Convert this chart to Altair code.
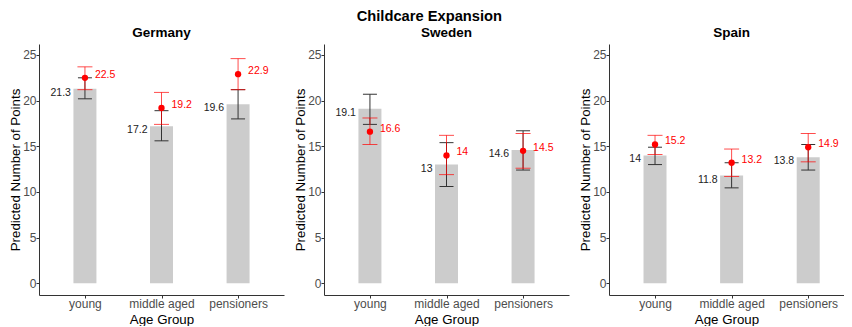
import altair as alt
import pandas as pd

countries = ["Germany", "Sweden", "Spain"]
groups = ["young", "middle aged", "pensioners"]

# black estimates (bars) with their confidence bounds
black_est = [[21.3, 17.2, 19.6], [19.1, 13.0, 14.6], [14.0, 11.8, 13.8]]
black_lo = [[20.2, 15.6, 18.0], [17.4, 10.6, 12.4], [13.0, 10.45, 12.4]]
black_hi = [[22.5, 18.9, 21.2], [20.7, 15.4, 16.7], [14.9, 13.2, 15.2]]

# red estimates (points) with their confidence bounds
red_est = [[22.5, 19.2, 22.9], [16.6, 14.0, 14.5], [15.2, 13.2, 14.9]]
red_lo = [[21.2, 17.4, 21.2], [15.2, 11.9, 12.6], [14.1, 11.7, 13.3]]
red_hi = [[23.7, 20.9, 24.6], [18.1, 16.2, 16.4], [16.2, 14.7, 16.4]]

y_ticks = [0, 5, 10, 15, 20, 25]

rows = []
for ci, c in enumerate(countries):
    for gi, g in enumerate(groups):
        rows.append(dict(country=c, group=g,
                         est=black_est[ci][gi], b_lo=black_lo[ci][gi], b_hi=black_hi[ci][gi],
                         red=red_est[ci][gi], r_lo=red_lo[ci][gi], r_hi=red_hi[ci][gi]))
df = pd.DataFrame(rows)

FONT = "Liberation Sans"
YTITLE = "Predicted Number of Points"
y_scale = alt.Scale(domain=[-1.28, 26.2], nice=False, zero=False)
y_axis = alt.Axis(values=y_ticks, grid=False, title=YTITLE)


def Y(field):
    return alt.Y(f"{field}:Q", scale=y_scale, axis=y_axis, title=YTITLE)


def panel(c, width=245, xscale=None, title_dx=0):
    if xscale is None:
        xscale = alt.Scale(type="point", padding=0.6)
    d = df[df.country == c]
    base = alt.Chart(d).encode(
        x=alt.X("group:N", sort=groups, scale=xscale,
                axis=alt.Axis(title="Age Group", labelAngle=0, titlePadding=3))
    )
    bars = base.mark_bar(size=23, color="#CCCCCC").encode(y=Y("est"), y2=alt.datum(0))
    b_rule = base.mark_rule(color="#333333", strokeWidth=1).encode(y=Y("b_lo"), y2="b_hi:Q")
    b_cap_lo = base.mark_tick(color="#333333", size=14, thickness=1, opacity=1).encode(y=Y("b_lo"))
    b_cap_hi = base.mark_tick(color="#333333", size=14, thickness=1, opacity=1).encode(y=Y("b_hi"))
    r_rule = base.mark_rule(color="#FF0000", strokeWidth=1, opacity=0.7).encode(y=Y("r_lo"), y2="r_hi:Q")
    r_cap_lo = base.mark_tick(color="#FF0000", size=15, thickness=1, opacity=0.7).encode(y=Y("r_lo"))
    r_cap_hi = base.mark_tick(color="#FF0000", size=15, thickness=1, opacity=0.7).encode(y=Y("r_hi"))
    pt = base.mark_circle(color="#FF0000", size=40, opacity=1).encode(y=Y("red"))
    b_txt = base.mark_text(align="right", baseline="middle", dx=-14, dy=4, fontSize=10.5,
                           font=FONT, color="#222222").encode(
        y=Y("est"), text=alt.Text("est:Q", format="~g"))
    r_txt = base.mark_text(align="left", baseline="middle", dx=10, dy=-3, fontSize=10.5,
                           font=FONT, color="#FF0000").encode(
        y=Y("red"), text=alt.Text("red:Q", format="~g"))
    return alt.layer(bars, b_rule, b_cap_lo, b_cap_hi, r_rule, r_cap_lo, r_cap_hi, pt,
                     b_txt, r_txt).properties(
        width=width, height=251,
        title=alt.Title(c, fontSize=13.5, fontWeight="bold", font=FONT, color="#000000",
                        anchor="middle", offset=3, baseline="bottom", dx=title_dx, dy=12))


p1 = panel("Germany")
p2 = panel("Sweden")
# the third panel is cut at the right edge in the reference
p3 = panel("Spain", width=235,
           xscale=alt.Scale(type="point", padding=0.534, align=0.5625), title_dx=5)

chart = alt.hconcat(p1, p2, p3, spacing=40, bounds="flush").properties(
    title=alt.Title("Childcare Expansion", fontSize=14.7, fontWeight="bold", font=FONT,
                    color="#000000", anchor="middle", offset=2, dx=3),
    padding={"left": 0, "top": 0, "right": 0, "bottom": 0},
).configure_view(stroke=None).configure_axis(
    domainColor="#333333", domainWidth=1, tickColor="#333333", tickSize=3, tickWidth=1,
    labelFont=FONT, labelFontSize=12, labelColor="#4D4D4D", labelPadding=0,
    titleFont=FONT, titleFontSize=13.3, titleFontWeight="normal", titleColor="#000000",
    titlePadding=0,
)

chart.save("out.html", embed_options={"renderer": "svg", "actions": False})
